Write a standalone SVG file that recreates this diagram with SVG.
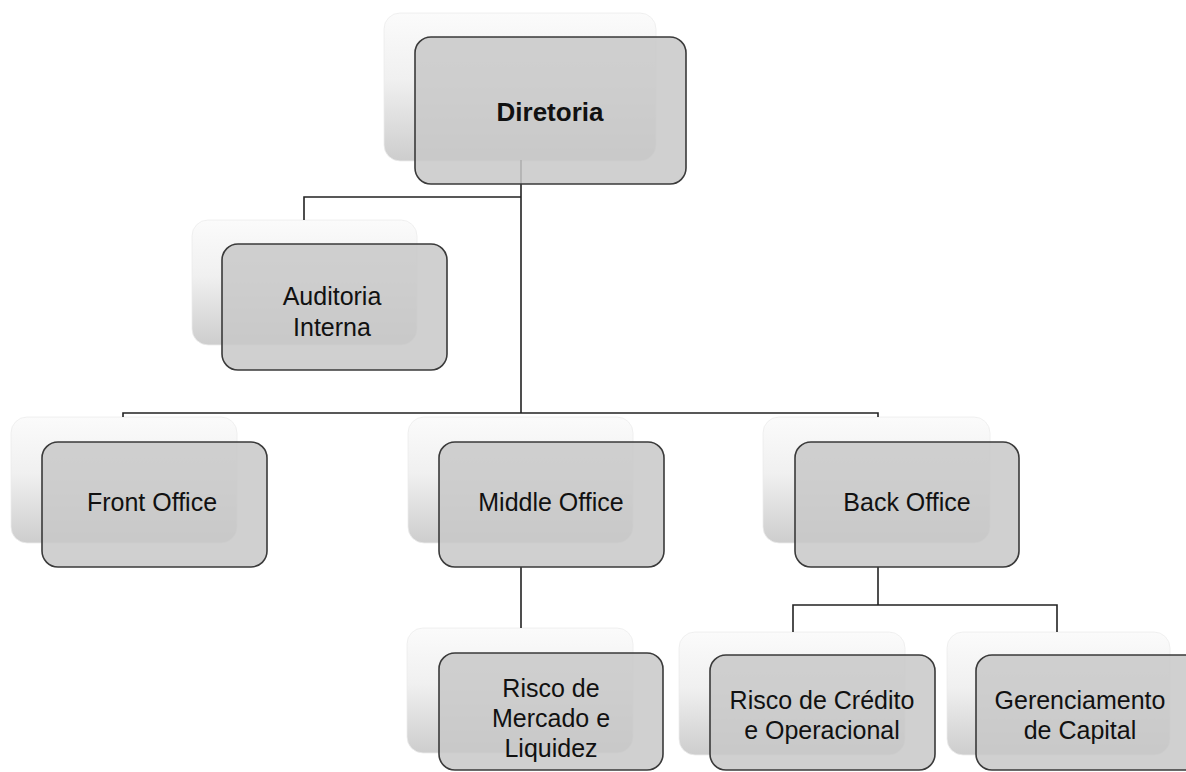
<svg xmlns="http://www.w3.org/2000/svg" width="1186" height="772" viewBox="0 0 1186 772">
<defs>
<linearGradient id="sh" x1="0" y1="0" x2="0" y2="1">
<stop offset="0" stop-color="#fbfbfb"/>
<stop offset="0.45" stop-color="#f0f0f0"/>
<stop offset="1" stop-color="#cdcdcd"/>
</linearGradient>
<style>
.sh{fill:url(#sh);stroke:#ececec;stroke-width:0.8}
.fr{fill:#c8c8c8;fill-opacity:0.85;stroke:#3a3a3a;stroke-width:1.6}
.t{font-family:"Liberation Sans",Arial,sans-serif;font-size:25px;fill:#111;text-anchor:middle}
.b{font-weight:bold;font-size:26px}
.c{fill:none;stroke:#222;stroke-width:1.6}
</style>
</defs>
<rect width="1186" height="772" fill="#fff"/>
<g id="shadows">
<rect class="sh" x="384" y="13" width="272" height="148" rx="16"/>
<rect class="sh" x="192" y="220" width="225" height="125" rx="16"/>
<rect class="sh" x="11" y="417" width="226" height="126" rx="16"/>
<rect class="sh" x="408" y="417" width="225" height="126" rx="16"/>
<rect class="sh" x="763" y="417" width="227" height="126" rx="16"/>
<rect class="sh" x="407" y="628" width="226" height="125" rx="16"/>
<rect class="sh" x="679" y="632" width="226" height="123" rx="16"/>
<rect class="sh" x="947" y="632" width="223" height="123" rx="16"/>
</g>
<g id="connectors">
<path class="c" d="M521 160 V413"/>
<path class="c" d="M521 197 H304 V220"/>
<path class="c" d="M123 417 V413 H878 V417"/>
<path class="c" d="M521 567 V628"/>
<path class="c" d="M878 567 V605"/>
<path class="c" d="M793 632 V605 H1057 V632"/>
</g>
<g id="diretoria">
<rect class="fr" x="415" y="37" width="271" height="147" rx="16"/>
<text class="t b" x="550" y="121">Diretoria</text>
</g>
<g id="auditoria">
<rect class="fr" x="222" y="244" width="225" height="126" rx="16"/>
<text class="t" x="332" y="305">Auditoria</text>
<text class="t" x="332" y="336">Interna</text>
</g>
<g id="front-office">
<rect class="fr" x="42" y="442" width="225" height="125" rx="16"/>
<text class="t" x="152" y="511">Front Office</text>
</g>
<g id="middle-office">
<rect class="fr" x="439" y="442" width="225" height="125" rx="16"/>
<text class="t" x="551" y="511">Middle Office</text>
</g>
<g id="back-office">
<rect class="fr" x="795" y="442" width="224" height="125" rx="16"/>
<text class="t" x="907" y="511">Back Office</text>
</g>
<g id="risco-mercado">
<rect class="fr" x="439" y="653" width="224" height="117" rx="16"/>
<text class="t" x="551" y="697">Risco de</text>
<text class="t" x="551" y="727">Mercado e</text>
<text class="t" x="551" y="757">Liquidez</text>
</g>
<g id="risco-credito">
<rect class="fr" x="710" y="655" width="225" height="115" rx="16"/>
<text class="t" x="822" y="709">Risco de Crédito</text>
<text class="t" x="822" y="739">e Operacional</text>
</g>
<g id="gerenciamento">
<rect class="fr" x="976" y="655" width="225" height="115" rx="16"/>
<text class="t" x="1080" y="709">Gerenciamento</text>
<text class="t" x="1080" y="739">de Capital</text>
</g>
</svg>
